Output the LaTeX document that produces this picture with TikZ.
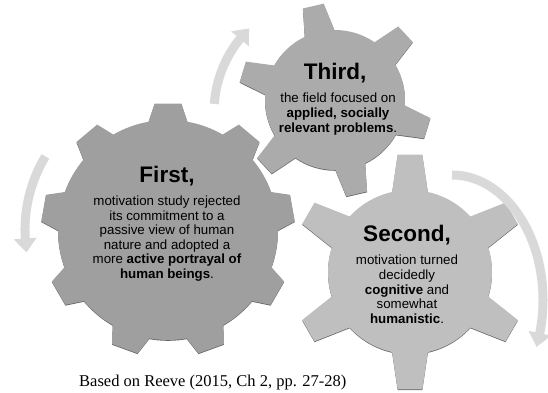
\documentclass[tikz,border=0pt]{standalone}
\usepackage{fontspec}
\setmainfont{Liberation Serif}
\newfontfamily\gearfont{Liberation Sans}
\usetikzlibrary{positioning,arrows.meta,bending}
\definecolor{gearFirst}{HTML}{9F9F9F}
\definecolor{gearSecond}{HTML}{BFBFBF}
\definecolor{gearThird}{HTML}{ABABAB}
\definecolor{cycleGray}{HTML}{D9D9D9}
\tikzset{
  pics/gear/.style n args={6}{% teeth, tip radius, root radius, first angle, base half angle, tip half angle
    code = {
        \fill [pic actions, preaction={fill=black!60, transform canvas={yshift=-0.8pt}}]
            (#4-#5:#3) \foreach \i [evaluate=\i as \a using #4+(\i-1)*360/#1] in {1,...,#1} {
                -- (\a-#5:#3) -- (\a-#6:#2) -- (\a+#6:#2) -- (\a+#5:#3)
                arc[start angle=\a+#5, end angle=\a+360/#1-#5, radius=#3]
            } -- cycle;
    }
  },
  gearhead/.style={font=\gearfont\bfseries\fontsize{22.5}{26}\selectfont, inner sep=0pt},
  geartext/.style={font=\gearfont\fontsize{13.3}{14.6}\selectfont, align=center, inner sep=0pt},
  cyclearrow/.style={draw=cycleGray, line width=9pt, -{Triangle[width=22pt,length=14pt,bend]}}
}
\begin{document}
\begin{tikzpicture}[x=1pt, y=1pt]
    \useasboundingbox (0,0) rectangle (548,392);
    \clip (0,0) rectangle (548,392);

    % gears
    \coordinate (firstC) at (168,162);
    \coordinate (secondC) at (410,120);
    \coordinate (thirdC) at (335,292);
    \pic [fill=gearThird] at (thirdC) {gear={6}{97}{70}{103}{12.6}{6.3}};
    \pic [fill=gearFirst] at (firstC) {gear={9}{127}{110}{90}{10.2}{6.1}};
    \pic [fill=gearSecond] at (secondC) {gear={6}{118}{82}{90}{12.6}{6.0}};

    % cycle arrows
    \coordinate (leftStart) at (45.4,235.6);
    \coordinate (upStart) at (214.3,288.1);
    \coordinate (rightStart) at (452,217);
    \draw [cyclearrow] (leftStart) arc[start angle=149, end angle=189, radius=143];
    \draw [cyclearrow] (upStart) arc[start angle=176, end angle=134, radius=116];
    \draw [cyclearrow] (rightStart) arc[start angle=90, end angle=-22, x radius=91, y radius=125];

    % texts
    \node (firstHead) [gearhead] at (167,216) {First,};
    \node (firstText) [geartext, below=9.5pt of firstHead] {motivation study rejected\\its commitment to a\\passive view of human\\nature and adopted a\\more \textbf{active portrayal of}\\\textbf{human beings}.};

    \node (secondHead) [gearhead] at (407,156.6) {Second,};
    \node (secondText) [geartext, below=9.5pt of secondHead] {motivation turned\\decidedly\\\textbf{cognitive} and\\somewhat\\\textbf{humanistic}.};

    \node (thirdHead) [gearhead] at (335,318.6) {Third,};
    \node (thirdText) [geartext, below=9.5pt of thirdHead, xshift=3pt] {the field focused on\\\textbf{applied, socially}\\\textbf{relevant problems}.};

    \node (source) [anchor=south west, inner sep=0pt, font=\fontsize{16.5}{20}\selectfont] at (79,1.5) {Based on Reeve (2015, Ch 2, pp. 27-28)};
\end{tikzpicture}
\end{document}
